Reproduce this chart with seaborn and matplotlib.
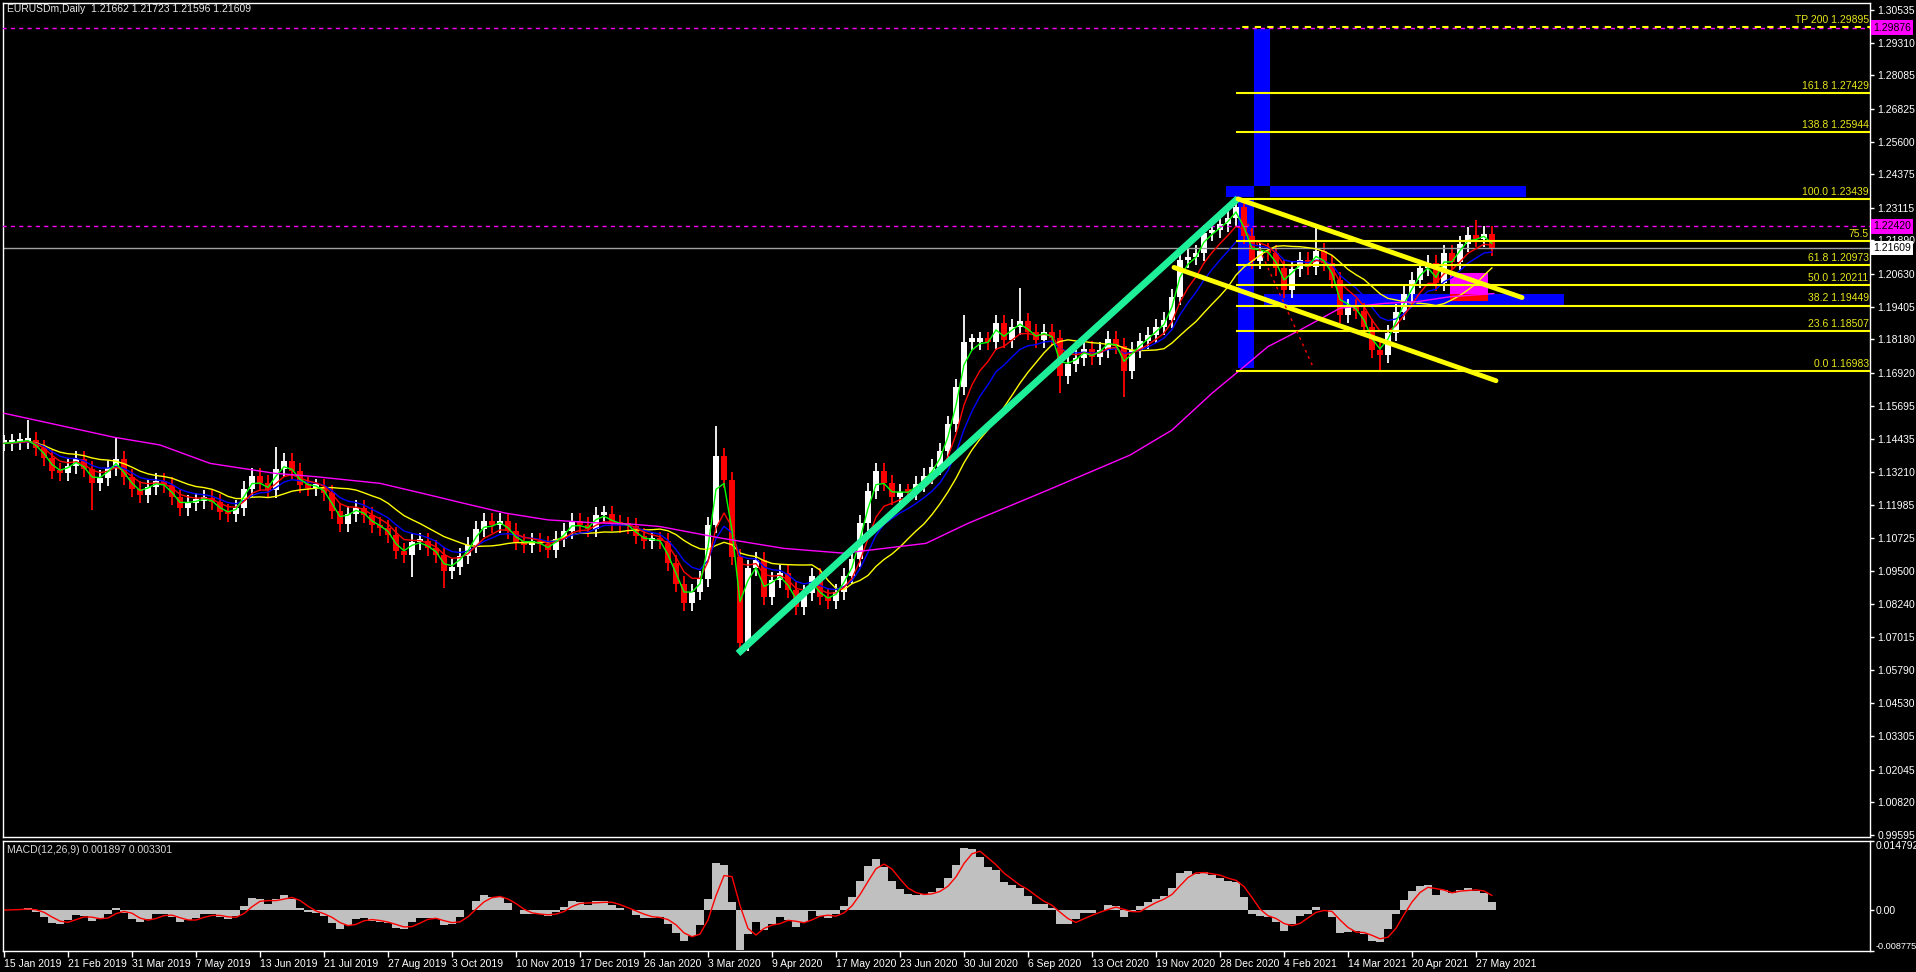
import numpy as np
import pandas as pd
import matplotlib
matplotlib.use("Agg")
import matplotlib.pyplot as plt
import matplotlib.transforms as mtransforms
import seaborn as sns

SYMBOL_HEADER = "EURUSDm,Daily  1.21662 1.21723 1.21596 1.21609"
MACD_HEADER = "MACD(12,26,9) 0.001897 0.003301"

# one candle drawn for every 4 daily bars
BARS_PER_CANDLE = 4

CLOSES = [
    1.1428, 1.1432, 1.1437, 1.1441, 1.1410, 1.1372, 1.1325, 1.1315, 1.1342, 1.1368,
    1.1330, 1.1280, 1.1298, 1.1335, 1.1370, 1.1300, 1.1255, 1.1235, 1.1266, 1.1285,
    1.1270, 1.1228, 1.1185, 1.1206, 1.1213, 1.1224, 1.1208, 1.1172, 1.1162, 1.1185,
    1.1257, 1.1305, 1.1280, 1.1253, 1.1330, 1.1360, 1.1325, 1.1272, 1.1262, 1.1265,
    1.1240, 1.1175, 1.1125, 1.1162, 1.1187, 1.1160, 1.1120, 1.1110, 1.1085, 1.1025,
    1.1010, 1.1058, 1.1060, 1.1035, 1.1010, 1.0950, 1.0965, 1.1005, 1.1045, 1.1105,
    1.1135, 1.1120, 1.1138, 1.1100, 1.1058, 1.1048, 1.1060, 1.1050, 1.1028, 1.1070,
    1.1100, 1.1138, 1.1120, 1.1106, 1.1160, 1.1162, 1.1130, 1.1122, 1.1118, 1.1080,
    1.1060, 1.1065, 1.1060, 1.0980, 1.0900, 1.0830, 1.0870, 1.0920, 1.1120, 1.1380,
    1.1290, 1.1000, 1.0680, 1.0960, 1.0990, 1.0850, 1.0915, 1.0940, 1.0878, 1.0815,
    1.0865, 1.0930, 1.0850, 1.0835, 1.0870, 1.0932, 1.0995, 1.1130, 1.1250, 1.1325,
    1.1280, 1.1228, 1.1245, 1.1244, 1.1275, 1.1306, 1.1340, 1.1400, 1.1500, 1.1640,
    1.1810, 1.1810, 1.1816, 1.1810, 1.1880, 1.1816, 1.1866, 1.1888, 1.1845, 1.1815,
    1.1846, 1.1822, 1.1680, 1.1725, 1.1750, 1.1782, 1.1752, 1.1780, 1.1820, 1.1795,
    1.1700, 1.1780, 1.1812, 1.1835, 1.1863, 1.1890, 1.1978, 1.2116, 1.2128, 1.2141,
    1.2216, 1.2228, 1.2250, 1.2275, 1.2316, 1.2205, 1.2113, 1.2150, 1.2141, 1.2085,
    1.2003, 1.2083, 1.2114, 1.2091, 1.2150, 1.2103, 1.2040, 1.1910, 1.1941, 1.1923,
    1.1866, 1.1780, 1.1760, 1.1841, 1.1920, 1.1990, 1.2040, 1.2086, 1.2103, 1.2030,
    1.2141, 1.2110, 1.2175, 1.2210, 1.2195, 1.2212, 1.2161,
]

# long wicks (candle number -> price)
HIGH_SPIKES = {3: 1.1515, 14: 1.1447, 34: 1.1413, 89: 1.1495, 120: 1.1909,
               127: 1.2011, 154: 1.2349, 164: 1.2243, 184: 1.2266}
LOW_SPIKES = {11: 1.1178, 51: 1.0928, 55: 1.0884, 92: 1.0636, 132: 1.1616,
              140: 1.1603, 172: 1.1704}

# 200 day average, read at a few bars
MA200_BARS = [0, 55, 78, 103, 135, 156, 188, 209, 230, 251, 272, 293, 314, 328,
              359, 390, 420, 461, 482, 522, 563, 584, 604, 618, 632, 648, 668,
              690, 707, 723, 745]
MA200_VALUES = [1.1541, 1.1451, 1.1422, 1.1353, 1.1316, 1.1303, 1.1278, 1.1241,
                1.1203, 1.1166, 1.1141, 1.1131, 1.1125, 1.1116, 1.1072, 1.1034,
                1.1016, 1.1053, 1.1128, 1.1253, 1.1384, 1.1478, 1.1616, 1.1703,
                1.1791, 1.1853, 1.1935, 1.1953, 1.1960, 1.1978, 1.1990]

DATE_LABELS = ["15 Jan 2019", "21 Feb 2019", "31 Mar 2019", "7 May 2019", "13 Jun 2019",
               "21 Jul 2019", "27 Aug 2019", "3 Oct 2019", "10 Nov 2019", "17 Dec 2019",
               "26 Jan 2020", "3 Mar 2020", "9 Apr 2020", "17 May 2020", "23 Jun 2020",
               "30 Jul 2020", "6 Sep 2020", "13 Oct 2020", "19 Nov 2020", "28 Dec 2020",
               "4 Feb 2021", "14 Mar 2021", "20 Apr 2021", "27 May 2021"]
BARS_PER_DATE_LABEL = 32

PRICE_TICKS = [1.30535, 1.29310, 1.28085, 1.26825, 1.25600, 1.24375, 1.23115,
               1.21890, 1.20630, 1.19405, 1.18180, 1.16920, 1.15695, 1.14435,
               1.13210, 1.11985, 1.10725, 1.09500, 1.08240, 1.07015, 1.05790,
               1.04530, 1.03305, 1.02045, 1.00820, 0.99595]
MACD_TICKS = [0.014792, 0.0, -0.008775]
MACD_TICK_LABELS = ["0.014792", "0.00", "-0.008775"]

FIB_PRICES = [1.16983, 1.18507, 1.19449, 1.20211, 1.20973, 1.21857, 1.23439,
              1.25944, 1.27429, 1.29895]
FIB_LABELS = ["0.0 1.16983", "23.6 1.18507", "38.2 1.19449", "50.0 1.20211",
              "61.8 1.20973", "75.5", "100.0 1.23439", "138.8 1.25944",
              "161.8 1.27429", "TP 200 1.29895"]
FIB_START = 616

LAST_PRICE = 1.21609
ALERT_LEVELS = [1.29876, 1.22420]

# drawn objects: (bar, price) end points
UP_TREND = [(367, 1.0640), (617, 1.2347)]
CHANNEL_TOP = [(617, 1.2345), (759, 1.1975)]
CHANNEL_BOTTOM = [(585, 1.2088), (746, 1.1663)]
RED_DOTTED = [(619, 1.2300), (655, 1.1707)]

# rectangles: bar0, bar1, price0, price1, colour
ZONES = [
    (625, 633, 1.2393, 1.2982, "#0000ff"),
    (611, 625, 1.2352, 1.2393, "#0000ff"),
    (633, 761, 1.2352, 1.2393, "#0000ff"),
    (617, 625, 1.1711, 1.2341, "#0000ff"),
    (630, 723, 1.1947, 1.1988, "#0000ff"),
    (742, 780, 1.1947, 1.1988, "#0000ff"),
    (723, 742, 1.1988, 1.2067, "#ff00ff"),
    (723, 742, 1.1962, 1.1988, "#ff0000"),
    (723, 742, 1.1947, 1.1962, "#0000ff"),
]

W, H = 1916, 972
TXT = 7.5

sns.set_theme(style="dark", rc={
    "figure.facecolor": "black",
    "axes.facecolor": "black",
    "axes.edgecolor": "white",
    "axes.grid": False,
    "axes.linewidth": 1.0,
    "text.color": "white",
    "xtick.color": "white",
    "ytick.color": "white",
})
plt.rcParams["font.family"] = ["Liberation Sans", "DejaVu Sans"]

closes = pd.Series(CLOSES)
bars = np.arange(len(CLOSES)) * BARS_PER_CANDLE
opens = pd.Series([CLOSES[0]] + CLOSES[:-1])
highs = np.maximum(opens, closes) + 0.003
lows = np.minimum(opens, closes) - 0.003
for k, v in HIGH_SPIKES.items():
    highs[k] = max(highs[k], v)
for k, v in LOW_SPIKES.items():
    lows[k] = min(lows[k], v)


def ema(period):
    alpha = 1 - (1 - 2 / (period + 1)) ** BARS_PER_CANDLE
    return closes.ewm(alpha=alpha, adjust=False).mean()


macd = ema(12) - ema(26)
signal = macd.rolling(3, min_periods=1).mean()

fig = plt.figure(figsize=(W / 100, H / 100), dpi=100)
ax = fig.add_axes([3 / W, 1 - 837 / H, 1867 / W, 834 / H])
ax2 = fig.add_axes([3 / W, 1 - 951 / H, 1867 / W, 110 / H], sharex=ax)

# zones behind everything
for b0, b1, p0, p1, c in ZONES:
    ax.fill_between([b0, b1], p0, p1, color=c, lw=0, zorder=0.5)

# candles
up = closes >= opens
colors = np.where(up, "#ffffff", "#ff0000")
body_lo = np.minimum(opens, closes)
body_h = np.maximum(np.abs(closes - opens), 0.0012)
ax.vlines(bars, lows, highs, colors=colors, lw=1.3, zorder=2)
ax.bar(bars, body_h, bottom=body_lo, width=2.8, color=colors, linewidth=0, zorder=2)

# moving averages
ma = pd.DataFrame({"bar": bars, "green": ema(8), "red": ema(21), "blue": ema(34),
                   "yellow": closes.rolling(14, min_periods=1).mean()})
for col, c in [("yellow", "#ffff00"), ("blue", "#0000ff"), ("red", "#ff0000"), ("green", "#00ff00")]:
    sns.lineplot(data=ma, x="bar", y=col, color=c, lw=1, ax=ax, zorder=3)
sns.lineplot(x=MA200_BARS, y=MA200_VALUES, color="#ff00ff", lw=1, ax=ax, zorder=3)

# horizontal levels
x_end = 933
ax.hlines(LAST_PRICE, -1, x_end, color="#a0a0a0", lw=1, zorder=2.5)
for lv in ALERT_LEVELS:
    ax.hlines(lv, -1, x_end, color="#ff00ff", lw=1, linestyles=(0, (3, 3)), zorder=4)
ytrans = mtransforms.blended_transform_factory(ax.transAxes, ax.transData)
for p, lab in zip(FIB_PRICES, FIB_LABELS):
    ls = (3, (3, 3)) if lab.startswith("TP") else "-"
    ax.hlines(p, FIB_START, x_end, color="#ffff00", lw=1.5, linestyles=ls, zorder=4)
    ax.text(0.9993, p + 0.0008, lab, transform=ytrans,
            ha="right", va="bottom", color="#e8e81a", fontsize=TXT, zorder=6)

# trend lines
ax.plot(*zip(*UP_TREND), color="#1ef09a", lw=5, solid_capstyle="butt", zorder=5)
ax.plot(*zip(*CHANNEL_TOP), color="#ffff00", lw=3.5, zorder=5)
ax.plot(*zip(*CHANNEL_BOTTOM), color="#ffff00", lw=3.5, zorder=5)
ax.plot(*zip(*RED_DOTTED), color="#ff0000", lw=1, ls=(0, (2, 3)), zorder=5)

ax.set_xlim(-0.5, x_end)
ax.set_ylim(0.99515, 1.30798)
ax.set_xlabel("")
ax.set_ylabel("")
ax.yaxis.tick_right()
ax.set_yticks(PRICE_TICKS)
ax.set_yticklabels([f"{v:.5f}" for v in PRICE_TICKS])
ax.tick_params(axis="y", right=True, left=False, length=3, width=1, direction="out",
               colors="white", labelsize=TXT, pad=2.5)
ax.tick_params(axis="x", bottom=False, labelbottom=False)
for s in ax.spines.values():
    s.set_color("white")

# marker boxes on the price scale
for lv in ALERT_LEVELS:
    ax.text(1.0015, lv, f"{lv:.5f}", transform=ytrans, ha="left", va="center", fontsize=TXT,
            color="black", clip_on=False, zorder=10,
            bbox=dict(boxstyle="square,pad=0.22", fc="#ff00ff", ec="none"))
ax.text(1.0015, LAST_PRICE, f"{LAST_PRICE:.5f}", transform=ytrans, ha="left", va="center",
        fontsize=TXT, color="black", clip_on=False, zorder=10,
        bbox=dict(boxstyle="square,pad=0.22", fc="white", ec="none"))

# MACD
ax2.bar(bars, macd, width=BARS_PER_CANDLE, color="#c0c0c0", linewidth=0)
sns.lineplot(x=bars, y=signal.values, color="#ff0000", lw=1, ax=ax2)
ax2.set_ylim(MACD_TICKS[2], MACD_TICKS[0])
ax2.yaxis.tick_right()
ax2.set_yticks(MACD_TICKS)
ax2.set_yticklabels(MACD_TICK_LABELS)
ax2.tick_params(axis="y", right=True, left=False, length=3, width=1, direction="out",
                colors="white", labelsize=TXT, pad=1)
ylabs = ax2.get_yticklabels()
ylabs[0].set_va("top")
ylabs[-1].set_va("bottom")
ylabs[-1].set_fontsize(6.6)
date_ticks = [i * BARS_PER_DATE_LABEL for i in range(len(DATE_LABELS))]
ax2.set_xticks(date_ticks)
ax2.set_xticklabels(DATE_LABELS)
ax2.tick_params(axis="x", bottom=True, length=4, width=1, direction="out",
                colors="white", labelsize=TXT, pad=2)
for lbl in ax2.get_xticklabels():
    lbl.set_ha("left")
ax2.set_xlabel("")
ax2.set_ylabel("")
for s in ax2.spines.values():
    s.set_color("white")

fig.text(7 / W, 1 - 9 / H, SYMBOL_HEADER, ha="left", va="center", fontsize=TXT, color="#e8e8e8")
fig.text(7 / W, 1 - 850 / H, MACD_HEADER, ha="left", va="center", fontsize=TXT, color="#d8d8d8")

fig.savefig("out.png", dpi=100, facecolor="black")
